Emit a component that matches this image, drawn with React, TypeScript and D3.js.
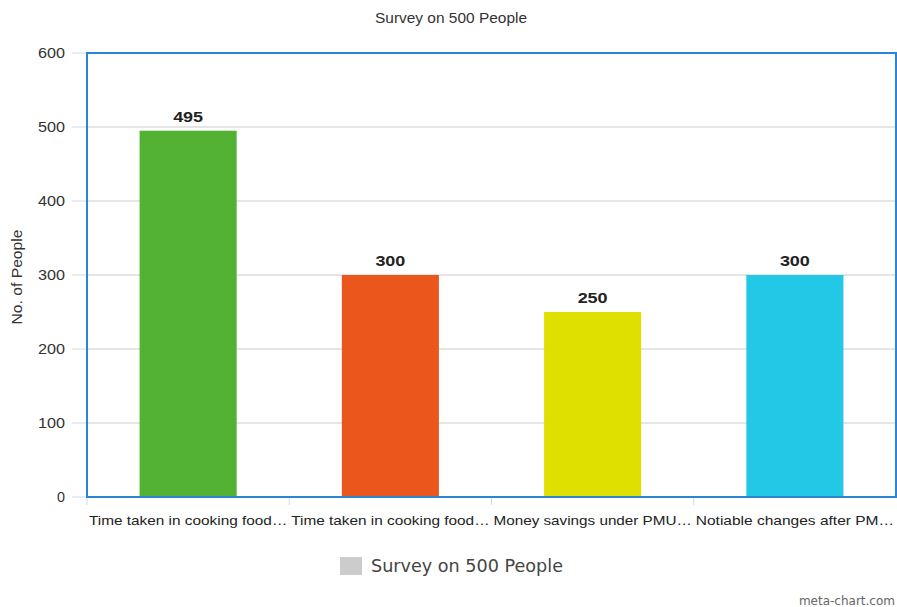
import React from "react";
import * as d3 from "d3";

const categories = [
  "Time taken in cooking food…",
  "Time taken in cooking food…",
  "Money savings under PMU…",
  "Notiable changes after PM…",
];
const values = [495, 300, 250, 300];
const barColors = ["#53b234", "#ea561c", "#dfe000", "#22c8e5"];
const yTicks = [0, 100, 200, 300, 400, 500, 600];
const title = "Survey on 500 People";
const yTitle = "No. of People";
const legendLabel = "Survey on 500 People";

const W = 897;
const H = 607;
const left = 87;
const right = 896;
const top = 53;
const bottom = 497;

export default function App() {
  const x = d3.scaleBand<number>().domain(d3.range(categories.length)).range([left, right]).paddingInner(0.52).paddingOuter(0.26);
  const band = d3.scaleBand<number>().domain(d3.range(categories.length)).range([left, right]);
  const y = d3.scaleLinear().domain([0, 600]).range([bottom, top]);
  return (
    <svg width={W} height={H} style={{ position: "absolute", left: 0, top: 0, background: "#fff" }} fontFamily="Liberation Sans, Arial, sans-serif">
      <text x={451} y={23} textAnchor="middle" fontSize={14} fill="#333" textLength={152} lengthAdjust="spacingAndGlyphs">{title}</text>
      {yTicks.map((t) => (
        <g key={t}>
          <line x1={72} x2={left} y1={y(t)} y2={y(t)} stroke="#c8daf0" strokeWidth={1} />
          <line x1={left} x2={right} y1={y(t)} y2={y(t)} stroke="#dcdcdc" strokeWidth={1.5} />
          <text x={65} y={y(t) + 5} textAnchor="end" fontSize={14} fill="#333" textLength={t === 0 ? 8 : 27} lengthAdjust="spacingAndGlyphs">{t}</text>
        </g>
      ))}
      <text transform={`translate(22,${(top + bottom) / 2 + 2}) rotate(-90)`} textAnchor="middle" fontSize={14} fill="#333" textLength={95} lengthAdjust="spacingAndGlyphs">{yTitle}</text>
      {values.map((v, i) => (
        <g key={i}>
          <rect x={x(i)} y={y(v)} width={x.bandwidth()} height={bottom - y(v)} fill={barColors[i]} />
          <text x={(x(i) as number) + x.bandwidth() / 2} y={y(v) - 9} textAnchor="middle" fontSize={14} fontWeight="bold" fill="#222" textLength={30} lengthAdjust="spacingAndGlyphs">{v}</text>
        </g>
      ))}
      {categories.map((c, i) => (
        <g key={i}>
          <line x1={band(i)} x2={band(i)} y1={bottom} y2={bottom + 8} stroke="#c8daf0" />
          <text x={(band(i) as number) + band.bandwidth() / 2} y={525} textAnchor="middle" fontSize={13} fill="#222" textLength={band.bandwidth() - 4} lengthAdjust="spacingAndGlyphs">{c}</text>
        </g>
      ))}
      <rect x={left} y={top} width={right - left} height={bottom - top} fill="none" stroke="#2a85d8" strokeWidth={2} />
      <rect x={340} y={557} width={22} height={18} fill="#cccccc" />
      <text x={371} y={572} fontSize={17} fill="#444" fontFamily="DejaVu Sans, sans-serif" textLength={192} lengthAdjust="spacingAndGlyphs">{legendLabel}</text>
      <text x={895} y={605} textAnchor="end" fontSize={12} fill="#666" fontFamily="DejaVu Sans, sans-serif">meta-chart.com</text>
    </svg>
  );
}
